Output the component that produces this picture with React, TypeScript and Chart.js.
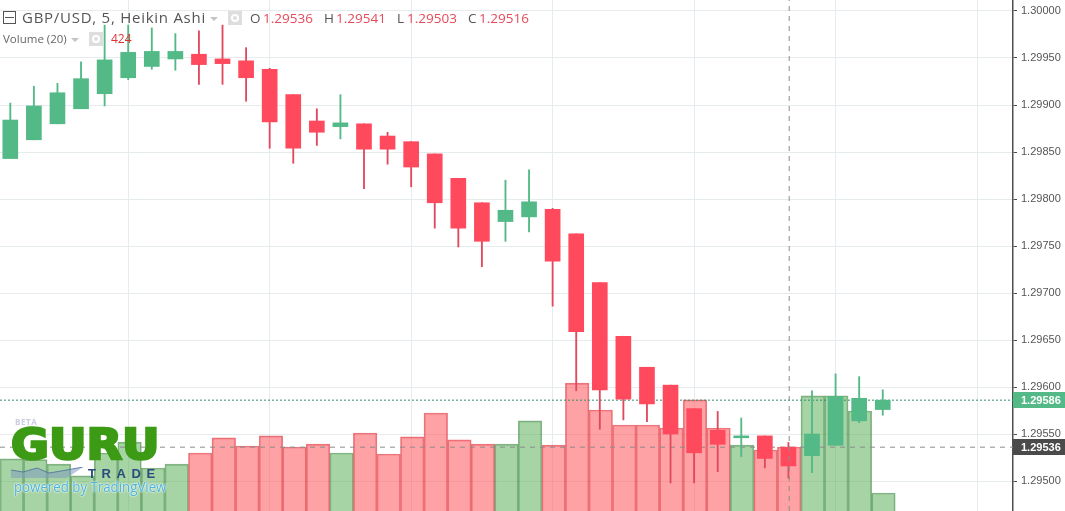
import React, { useEffect, useRef } from "react";
import { Chart, registerables } from "chart.js";

Chart.register(...registerables);

const opens = [1.29843,1.29863,1.2988,1.29896,1.29912,1.29929,1.29941,1.29949,1.29954,1.29949,1.29947,1.29938,1.29911,1.29883,1.29877,1.2988,1.29867,1.29861,1.29848,1.29822,1.29796,1.29776,1.29781,1.29789,1.29763,1.29711,1.29654,1.29621,1.29602,1.29577,1.29554,1.29546,1.29548,1.29536,1.29527,1.29538,1.29564,1.29576];
const highs = [1.29902,1.2992,1.29923,1.29946,1.29985,1.29985,1.29982,1.29976,1.29979,1.29985,1.29961,1.29939,1.29911,1.29896,1.29911,1.2988,1.29871,1.29861,1.29848,1.29822,1.29796,1.2982,1.29831,1.2979,1.29763,1.29711,1.29654,1.29621,1.29602,1.29577,1.29574,1.29567,1.29548,1.29541,1.29596,1.29614,1.29611,1.29597];
const lows = [1.29843,1.29863,1.2988,1.29896,1.29899,1.29927,1.29938,1.29937,1.29922,1.29922,1.29904,1.29854,1.29838,1.29857,1.29864,1.29811,1.29837,1.29813,1.29769,1.29749,1.29728,1.29755,1.29765,1.29686,1.29596,1.29555,1.29565,1.29563,1.29498,1.29498,1.2951,1.29526,1.29514,1.29503,1.29509,1.29538,1.29562,1.2957];
const closes = [1.29884,1.29899,1.29913,1.29928,1.29948,1.29956,1.29957,1.29957,1.29943,1.29944,1.29929,1.29882,1.29854,1.29871,1.29881,1.29853,1.29853,1.29834,1.29796,1.29769,1.29755,1.29788,1.29797,1.29734,1.29659,1.29597,1.29587,1.29582,1.2955,1.2953,1.29539,1.29548,1.29524,1.29516,1.2955,1.2959,1.29588,1.29586];
const volumes = [364,360,338,278,394,449,318,338,394,470,429,480,424,439,394,495,389,475,596,460,439,439,556,434,747,611,535,535,520,662,520,434,409,424,682,682,606,192];

const gridIndices = [5, 11, 17, 23, 29, 35, 41];
const crosshairIndex = 33;
const crosshairPrice = 1.29536;
const lastPrice = 1.29586;
const priceMin = 1.294681;
const priceMax = 1.300117;
const priceStep = 0.0005;
const volumeMin = 101;
const volumeMax = 2681;
const legendOHLC = [["O", "1.29536", 250, 263], ["H", "1.29541", 324, 336], ["L", "1.29503", 397, 407], ["C", "1.29516", 468, 479]] as const;

const GREEN = "#53B987";
const RED = "#FF4A5E";
const isUp = (i: number) => closes[i] >= opens[i];
const candleX = { min: -0.437, max: 42.524 };
const volumeX = { min: -0.5, max: 42.5 };
const idx = opens.map((_, i) => i);

const valueBoxes = {
  id: "valueBoxes",
  afterDraw(chart: any) {
    const { ctx, scales } = chart;
    const y = scales.y;
    const draw = (v: number, bg: string) => {
      const py = y.getPixelForValue(v);
      ctx.save();
      ctx.fillStyle = bg;
      ctx.fillRect(1013, Math.round(py) - 8, 52, 16);
      ctx.fillStyle = "#fff";
      ctx.font = "bold 11px 'Liberation Sans'";
      ctx.textBaseline = "middle";
      ctx.fillText(v.toFixed(5), 1021, Math.round(py) + 0.5);
      ctx.restore();
    };
    draw(lastPrice, GREEN);
    draw(crosshairPrice, "#4A4A4A");
  },
};

export default function App() {
  const ref = useRef<HTMLCanvasElement>(null);
  useEffect(() => {
    const chart = new Chart(ref.current!, {
      type: "bar",
      plugins: [valueBoxes],
      data: {
        datasets: [
          {
            type: "line",
            order: 1,
            xAxisID: "x2",
            yAxisID: "y",
            data: [{ x: crosshairIndex, y: priceMin }, { x: crosshairIndex, y: priceMax }],
            borderColor: "#8C8C8C",
            borderWidth: 1,
            borderDash: [5, 5],
            pointRadius: 0,
          },
          {
            type: "line",
            order: 4,
            xAxisID: "x2",
            yAxisID: "y",
            data: [{ x: volumeX.min, y: crosshairPrice }, { x: volumeX.max, y: crosshairPrice }],
            borderColor: "#8C8C8C",
            borderWidth: 1,
            borderDash: [5, 5],
            pointRadius: 0,
          },
          {
            type: "line",
            order: 4,
            xAxisID: "x2",
            yAxisID: "y",
            data: [{ x: volumeX.min, y: lastPrice }, { x: volumeX.max, y: lastPrice }],
            borderColor: "#2F8F6A",
            borderWidth: 1,
            borderDash: [2, 2],
            pointRadius: 0,
          },
          {
            type: "bar",
            order: 3,
            xAxisID: "x",
            yAxisID: "y",
            grouped: false,
            barThickness: 1.2,
            data: idx.map((i) => ({ x: i, y: [lows[i], highs[i]] })),
            backgroundColor: idx.map((i) => (isUp(i) ? GREEN : "#E04A5E")),
            borderWidth: 0,
          },
          {
            type: "bar",
            order: 2,
            xAxisID: "x",
            yAxisID: "y",
            grouped: false,
            barThickness: 15,
            data: idx.map((i) => ({ x: i, y: [opens[i], closes[i]] })),
            backgroundColor: idx.map((i) => (isUp(i) ? GREEN : RED)),
            borderWidth: 0,
          },
          {
            type: "bar",
            order: 5,
            xAxisID: "x2",
            yAxisID: "y1",
            grouped: false,
            barThickness: 23.558,
            data: idx.map((i) => ({ x: i, y: volumes[i] })),
            backgroundColor: idx.map((i) => (isUp(i) ? "rgba(80,170,75,0.5)" : "rgba(255,70,75,0.5)")),
            borderColor: idx.map((i) => (isUp(i) ? "rgba(60,130,70,0.6)" : "rgba(220,70,80,0.7)")),
            borderWidth: 1,
          },
        ],
      } as any,
      options: {
        animation: false,
        responsive: false,
        maintainAspectRatio: false,
        events: [],
        layout: { padding: 0 },
        plugins: { legend: { display: false }, tooltip: { enabled: false }, title: { display: false } },
        scales: {
          x: {
            type: "linear",
            offset: false,
            min: candleX.min,
            max: candleX.max,
            afterBuildTicks: (s: any) => {
              s.ticks = gridIndices.map((value) => ({ value }));
            },
            ticks: { display: false },
            border: { display: false },
            grid: { offset: false, color: "#E4ECF0", drawTicks: false, lineWidth: 1 },
          },
          x2: { type: "linear", display: false, offset: false, min: volumeX.min, max: volumeX.max, grid: { offset: false } },
          y: {
            position: "right",
            min: priceMin,
            max: priceMax,
            afterFit: (s: any) => {
              s.width = 52;
              s.paddingTop = 0;
              s.paddingBottom = 0;
            },
            ticks: {
              stepSize: priceStep,
              includeBounds: false,
              padding: 4,
              color: "#555",
              font: { family: "'Liberation Sans'", size: 11 },
              callback: (v: any) => Number(v).toFixed(5),
            },
            border: { display: true, color: "#4F4F4F", width: 1.5 },
            grid: { color: "#E6ECEE", tickColor: "#4F4F4F", tickLength: 4, lineWidth: 1 },
          },
          y1: { display: false, min: volumeMin, max: volumeMax, grid: { display: false } },
        },
      } as any,
    });
    return () => chart.destroy();
  }, []);

  const f = "'Open Sans', sans-serif";
  const abs = (x: number, y: number, extra: React.CSSProperties = {}): React.CSSProperties => ({
    position: "absolute",
    left: x,
    top: y,
    whiteSpace: "nowrap",
    lineHeight: 1,
    ...extra,
  });
  const eye = (x: number, y: number) => (
    <div style={abs(x, y, { width: 14, height: 14, background: "#DEDEDE" })}>
      <div style={{ position: "absolute", left: 3, top: 3, width: 4, height: 4, border: "2px solid #fff", borderRadius: "50%" }} />
    </div>
  );
  const caret = (x: number, y: number) => (
    <div style={abs(x, y, { width: 0, height: 0, borderLeft: "4px solid transparent", borderRight: "4px solid transparent", borderTop: "4px solid #C4C4C4" })} />
  );

  return (
    <div style={{ position: "fixed", left: 0, top: 0, width: 1065, height: 511, overflow: "hidden", background: "#fff", fontFamily: f }}>
      <canvas ref={ref} width={1065} height={511} style={{ display: "block" }} />

      <div style={abs(3, 11, { width: 11, height: 11, border: "1px solid #555" })}>
        <div style={{ position: "absolute", left: 1, right: 1, top: 5, height: 1, background: "#555" }} />
      </div>
      <div style={abs(22, 10, { fontSize: 15, letterSpacing: 0.74, color: "#555" })}>GBP/USD, 5, Heikin Ashi</div>
      {caret(210, 17)}
      {eye(228, 11)}
      {legendOHLC.map(([k, v, kx, vx]) => (
        <React.Fragment key={k}>
          <div style={abs(kx, 12, { fontSize: 13.5, color: "#555" })}>{k}</div>
          <div style={abs(vx, 12, { fontSize: 13.5, color: "#E64A5A" })}>{v}</div>
        </React.Fragment>
      ))}
      <div style={abs(3, 33, { fontSize: 11.5, color: "#666" })}>Volume (20)</div>
      {caret(71, 38)}
      {eye(89, 32)}
      <div style={abs(111, 33, { fontSize: 12, color: "#DD3333" })}>424</div>

      <div style={abs(15, 418, { fontSize: 8, fontWeight: 700, letterSpacing: 0.6, color: "#C9CEDF" })}>BETA</div>
      <div
        style={abs(11, 424, {
          fontFamily: "'DejaVu Sans'",
          fontSize: 42,
          fontWeight: 700,
          color: "#3C9A14",
          WebkitTextStroke: "2.5px #3C9A14",
          transform: "scaleX(1.1)",
          transformOrigin: "left",
        })}
      >
        GURU
      </div>
      <svg style={abs(11, 467, { width: 72, height: 14 }) as any}>
        <polygon points="0,3 12,5 26,1 38,6 50,4 72,0 56,11 0,11" fill="#7D9BC0" opacity="0.55" />
        <polyline points="0,3 12,5 26,1 38,6 50,4 72,0" fill="none" stroke="#4A6E9A" strokeWidth="1" opacity="0.8" />
      </svg>
      <div style={abs(88, 467, { fontFamily: "'Liberation Sans'", fontSize: 13, fontWeight: 700, letterSpacing: 5.6, color: "#2A4C7D" })}>TRADE</div>
      <div
        style={abs(14, 480, {
          fontSize: 14.5,
          color: "#4FB3DC",
          textShadow: "0 0 2px #fff, 0 0 2px #fff",
          transform: "scaleX(0.915)",
          transformOrigin: "left",
        })}
      >
        powered by TradingView
      </div>
    </div>
  );
}
